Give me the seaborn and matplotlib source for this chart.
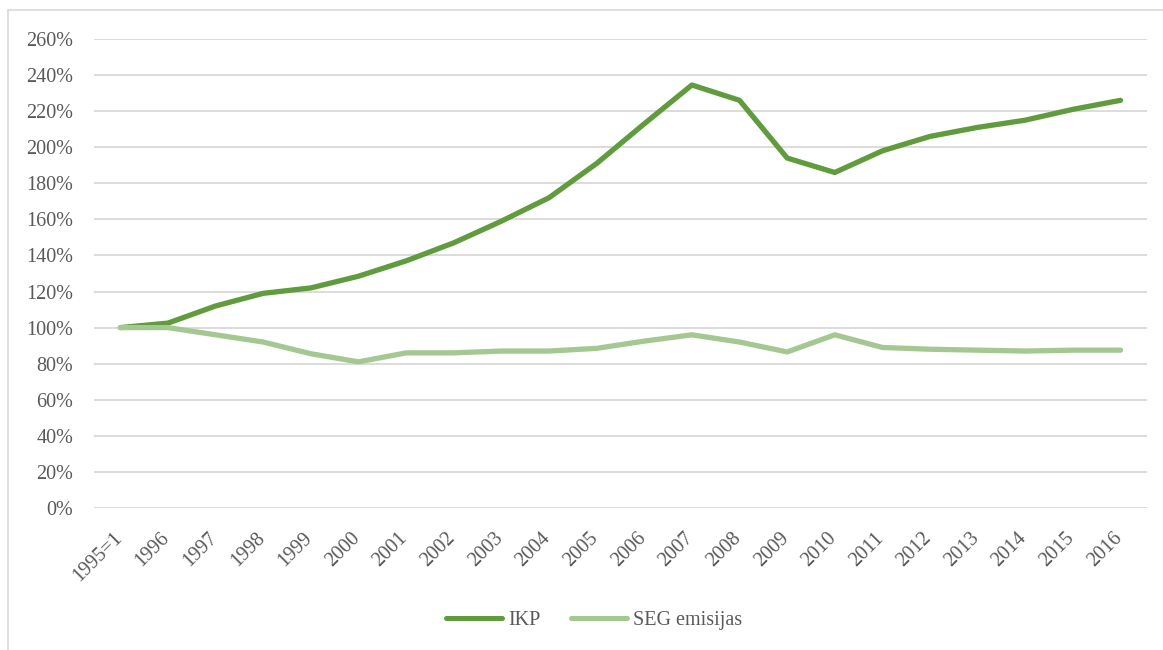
import pandas as pd
import matplotlib.pyplot as plt
import matplotlib.transforms as mtransforms
import seaborn as sns
from matplotlib.lines import Line2D
from matplotlib.ticker import PercentFormatter

years = ['1995=1', '1996', '1997', '1998', '1999', '2000', '2001', '2002', '2003', '2004', '2005',
         '2006', '2007', '2008', '2009', '2010', '2011', '2012', '2013', '2014', '2015', '2016']
ikp = [100, 102.5, 112, 119, 122, 128.5, 137, 147, 159, 172, 191,
       213, 234.5, 226, 194, 186, 198, 206, 211, 215, 221, 226]
seg = [100, 100, 96, 92, 85.5, 81, 86, 86, 87, 87, 88.5,
       92.5, 96, 92, 86.5, 96, 89, 88, 87.5, 87, 87.5, 87.5]

df = pd.DataFrame({'year': years * 2,
                   'value': ikp + seg,
                   'series': ['IKP'] * len(years) + ['SEG emisijas'] * len(years)})

sns.set_theme(style="white")
plt.rcParams['font.family'] = ['Liberation Serif', 'DejaVu Serif']

fig = plt.figure(figsize=(11.63, 6.5), dpi=100)
ax = fig.add_axes([0.081, 0.2185, 0.905, 0.7215])

palette = {'IKP': '#609B3E', 'SEG emisijas': '#A5C893'}
sns.lineplot(data=df, x='year', y='value', hue='series', palette=palette,
             linewidth=3.8, sort=False, ax=ax, legend=False,
             solid_capstyle='round', solid_joinstyle='round')

ax.set_ylim(0, 260)
ax.set_yticks(range(0, 261, 20))
ax.yaxis.set_major_formatter(PercentFormatter(decimals=0))
ax.set_xlim(-0.55, len(years) - 0.45)
ax.grid(axis='y', color='#D9D9D9', linewidth=1.3)
ax.set_axisbelow(True)
for s in ax.spines.values():
    s.set_visible(False)
ax.set_xlabel('')
ax.set_ylabel('')
ax.tick_params(axis='both', length=0, labelsize=14.5, colors='#595959')
ax.tick_params(axis='y', pad=15)
ax.tick_params(axis='x', pad=15)
# shift rotated labels a bit left, like the original
shift = mtransforms.ScaledTranslation(-8 / 100, 0, fig.dpi_scale_trans)
for lab in ax.get_xticklabels():
    lab.set_rotation(45)
    lab.set_ha('right')
    lab.set_rotation_mode('anchor')
    lab.set_transform(lab.get_transform() + shift)

handles = [Line2D([], [], color=palette[k], linewidth=3.6, solid_capstyle='round') for k in palette]
fig.legend(handles, list(palette), loc='center', bbox_to_anchor=(594 / 1163, 1 - 620 / 650),
           ncol=2, frameon=False, fontsize=14.5, labelcolor='#595959',
           handlelength=2.8, handletextpad=0.3, columnspacing=1.5)

# chart frame
fig.add_artist(Line2D([8 / 1163, 1], [1 - 10 / 650, 1 - 10 / 650], color='#D9D9D9', linewidth=1.2))
fig.add_artist(Line2D([8 / 1163, 8 / 1163], [0, 1 - 10 / 650], color='#D9D9D9', linewidth=1.2))

fig.savefig('out.png', dpi=100)
